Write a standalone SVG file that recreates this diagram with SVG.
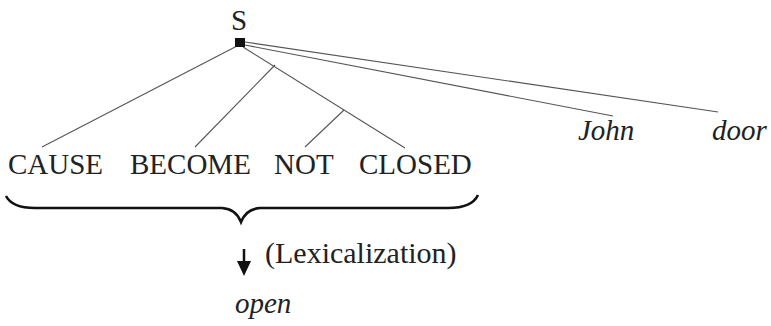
<svg xmlns="http://www.w3.org/2000/svg" width="771" height="326" viewBox="0 0 771 326">
<defs>
<style>
.t{font-family:'Liberation Serif','Times New Roman',serif;font-size:29px;fill:#222}
.i{font-style:italic}
.e{stroke:#555;stroke-width:1.1;fill:none}
</style>
</defs>
<rect width="771" height="326" fill="#fff"/>
<g id="connectors">
<line class="e" x1="237" y1="46" x2="42" y2="147"/>
<line class="e" x1="243" y1="47" x2="405" y2="148"/>
<line class="e" x1="275" y1="65" x2="195" y2="147"/>
<line class="e" x1="344" y1="110" x2="305" y2="147"/>
<line class="e" x1="245" y1="45" x2="613" y2="116"/>
<line class="e" x1="245" y1="42" x2="718" y2="112"/>
</g>
<g id="S"><text class="t" x="239" y="30" text-anchor="middle">S</text><rect x="235" y="38" width="10" height="9" fill="#111"/></g>
<g id="CAUSE"><text class="t" x="8" y="174">CAUSE</text></g>
<g id="BECOME"><text class="t" x="130" y="174">BECOME</text></g>
<g id="NOT"><text class="t" x="274" y="174">NOT</text></g>
<g id="CLOSED"><text class="t" x="359" y="174">CLOSED</text></g>
<g id="John"><text class="t i" x="578" y="140">John</text></g>
<g id="door"><text class="t i" x="712" y="140">door</text></g>
<g id="brace"><path d="M6,196 Q12,208 35,208 L222,208 Q236,209 241,222 Q246,209 260,208 L448,208 Q472,208 478,195" fill="none" stroke="#111" stroke-width="2.6"/></g>
<g id="lexicalization">
<line x1="244" y1="249" x2="244" y2="263" stroke="#111" stroke-width="2.5"/>
<path d="M237,261 L251,261 L244,276 Z" fill="#111"/>
<text class="t" x="265" y="263" style="font-size:30px">(Lexicalization)</text>
</g>
<g id="open"><text class="t i" x="235" y="313">open</text></g>
</svg>
